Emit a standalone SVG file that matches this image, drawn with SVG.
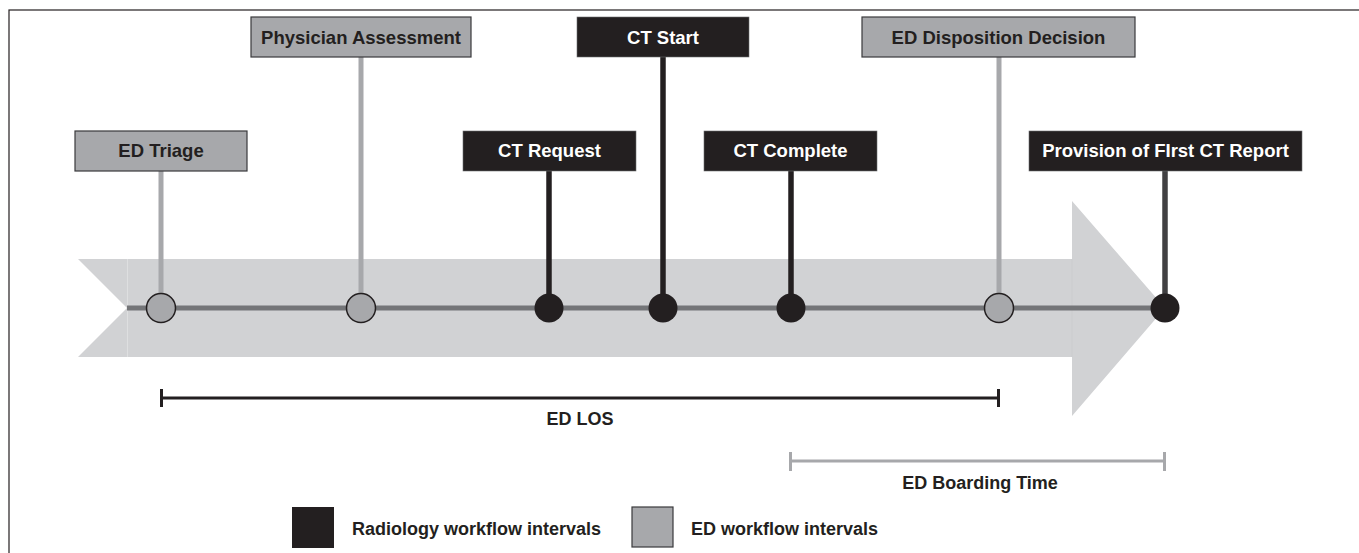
<svg xmlns="http://www.w3.org/2000/svg" width="1359" height="553" viewBox="0 0 1359 553">
<style>
.t{font-family:"Liberation Sans",Arial,sans-serif;font-weight:bold;font-size:18.5px;text-anchor:middle}
.dk{fill:#231f20}
.wt{fill:#ffffff}
.gbox{fill:#a7a8ab;stroke:#3a3a3c;stroke-width:1.2}
.bbox{fill:#231f20;stroke:#6d6e71;stroke-width:0.6}
.gline{stroke:#a7a8ab;stroke-width:5}
.bline{stroke:#231f20;stroke-width:5.5}
.gdot{fill:#a7a8ab;stroke:#231f20;stroke-width:1.5}
.bdot{fill:#231f20}
</style>
<rect x="0" y="0" width="1359" height="553" fill="#ffffff"/>
<rect x="9" y="10" width="1370" height="560" fill="none" stroke="#231f20" stroke-width="1.2"/>
<g id="arrow">
<polygon points="78,259 1072,259 1072,201 1165,308 1072,416 1072,357 78,357 127,308" fill="#d1d2d4"/>
<line x1="127.5" y1="259" x2="127.5" y2="357" stroke="#dedfe0" stroke-width="1"/>
<line x1="1072" y1="259" x2="1072" y2="357" stroke="#cbccce" stroke-width="1"/>
</g>
<g id="connectors">
<line x1="127" y1="308" x2="1165" y2="308" stroke="#747578" stroke-width="5"/>
<line class="gline" x1="161" y1="171" x2="161" y2="308"/>
<line class="gline" x1="361" y1="57" x2="361" y2="308"/>
<line class="bline" x1="549" y1="171" x2="549" y2="308"/>
<line class="bline" x1="663" y1="57" x2="663" y2="308"/>
<line class="bline" x1="791" y1="171" x2="791" y2="308"/>
<line class="gline" x1="999" y1="57" x2="999" y2="308"/>
<line x1="1165" y1="171" x2="1165" y2="308" stroke="#414042" stroke-width="5.5"/>
</g>
<g id="ed-triage">
<rect class="gbox" x="75" y="131" width="172" height="40"/>
<text class="t dk" x="161" y="157">ED Triage</text>
<circle class="gdot" cx="161" cy="308" r="14.5"/>
</g>
<g id="physician-assessment">
<rect class="gbox" x="251" y="17" width="220" height="40"/>
<text class="t dk" x="361" y="43.5">Physician Assessment</text>
<circle class="gdot" cx="361" cy="308" r="14.5"/>
</g>
<g id="ct-request">
<rect class="bbox" x="463" y="131" width="173" height="40"/>
<text class="t wt" x="549.5" y="157">CT Request</text>
<circle class="bdot" cx="549" cy="308" r="14.5"/>
</g>
<g id="ct-start">
<rect class="bbox" x="577" y="17" width="172" height="40"/>
<text class="t wt" x="663" y="43.5">CT Start</text>
<circle class="bdot" cx="663" cy="308" r="14.5"/>
</g>
<g id="ct-complete">
<rect class="bbox" x="704" y="131" width="173" height="40"/>
<text class="t wt" x="790.5" y="157">CT Complete</text>
<circle class="bdot" cx="791" cy="308" r="14.5"/>
</g>
<g id="ed-disposition-decision">
<rect class="gbox" x="862" y="17" width="273" height="40"/>
<text class="t dk" x="998.5" y="43.5">ED Disposition Decision</text>
<circle class="gdot" cx="999" cy="308" r="14.5"/>
</g>
<g id="provision-first-ct-report">
<rect class="bbox" x="1029" y="131" width="273" height="40"/>
<text class="t wt" x="1165.5" y="157">Provision of FIrst CT Report</text>
<circle class="bdot" cx="1165" cy="308" r="14.5"/>
</g>
<g id="ed-los">
<line x1="161" y1="398" x2="999" y2="398" stroke="#231f20" stroke-width="3"/>
<line x1="161.5" y1="389" x2="161.5" y2="407" stroke="#231f20" stroke-width="3"/>
<line x1="998.5" y1="389" x2="998.5" y2="407" stroke="#231f20" stroke-width="3"/>
<text class="t dk" x="580" y="425" style="font-size:18px">ED LOS</text>
</g>
<g id="ed-boarding-time">
<line x1="790" y1="461" x2="1165" y2="461" stroke="#a7a8ab" stroke-width="3"/>
<line x1="790.5" y1="452" x2="790.5" y2="471" stroke="#a7a8ab" stroke-width="3"/>
<line x1="1164.5" y1="452" x2="1164.5" y2="471" stroke="#a7a8ab" stroke-width="3"/>
<text class="t dk" x="980" y="489" style="font-size:18px">ED Boarding Time</text>
</g>
<g id="legend">
<rect x="292" y="507" width="42" height="41" fill="#231f20"/>
<text class="t dk" x="352" y="535" style="font-size:18px;text-anchor:start">Radiology workflow intervals</text>
<rect class="gbox" x="632" y="507" width="41" height="40"/>
<text class="t dk" x="691" y="535" style="font-size:18px;text-anchor:start">ED workflow intervals</text>
</g>
</svg>
